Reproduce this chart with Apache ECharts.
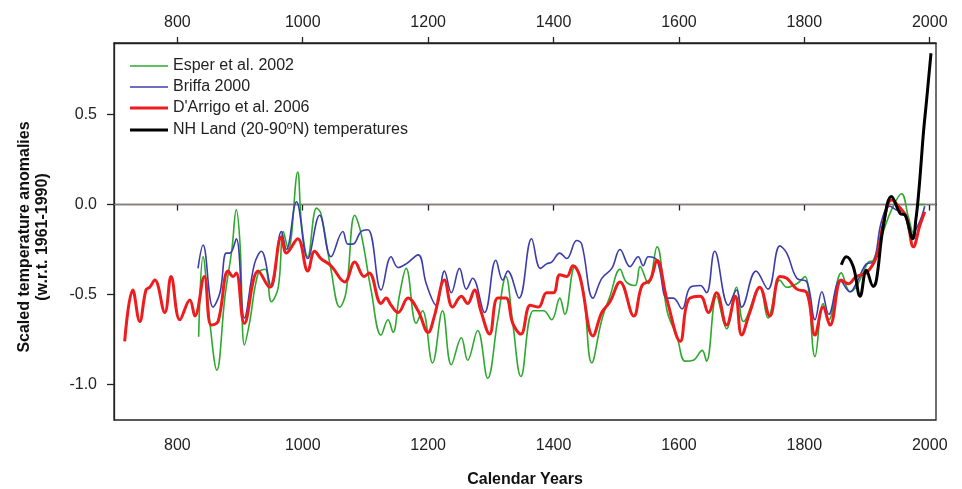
<!DOCTYPE html>
<html>
<head>
<meta charset="utf-8">
<script src="https://cdn.jsdelivr.net/npm/echarts@6/dist/echarts.min.js"></script>
<style>
html,body{margin:0;padding:0;background:#fff;}
#chart{width:962px;height:489px;}
</style>
</head>
<body>
<div id="chart"></div>
<script>
// ---- data ----
var xTicks = [800, 1000, 1200, 1400, 1600, 1800, 2000];
var yTicks = [-1.0, -0.5, 0.0, 0.5];

var esperYears = [834,841,852,863,876,887,894,900,907,915,929,940,950,961,969,977,992,998,1008,1022,1029,1045,1059,1069,1083,1093,1109,1125,1136,1144,1154,1165,1181,1191,1207,1223,1237,1253,1263,1279,1295,1311,1324,1335,1348,1368,1384,1397,1410,1418,1434,1447,1461,1477,1490,1506,1516,1530,1538,1551,1565,1581,1597,1610,1623,1637,1644,1660,1676,1692,1703,1729,1742,1761,1772,1788,1801,1817,1830,1839,1859,1873,1884,1902,1910,1926,1939,1955,1966,1974,1984,1992];
var esperVals  = [-0.735,-0.29,-0.66,-0.92,-0.51,-0.25,-0.03,-0.22,-0.78,-0.66,-0.38,-0.36,-0.54,-0.46,-0.15,-0.25,0.18,-0.105,-0.29,-0.02,-0.05,-0.36,-0.57,-0.49,-0.06,-0.16,-0.475,-0.725,-0.64,-0.71,-0.51,-0.355,-0.66,-0.59,-0.88,-0.59,-0.89,-0.74,-0.865,-0.70,-0.965,-0.64,-0.40,-0.66,-0.955,-0.59,-0.59,-0.64,-0.52,-0.61,-0.345,-0.475,-0.88,-0.64,-0.51,-0.36,-0.43,-0.45,-0.345,-0.44,-0.235,-0.59,-0.735,-0.87,-0.865,-0.81,-0.87,-0.51,-0.69,-0.46,-0.65,-0.46,-0.63,-0.42,-0.46,-0.44,-0.40,-0.845,-0.55,-0.64,-0.38,-0.485,-0.45,-0.32,-0.31,-0.15,-0.03,0.06,-0.07,-0.16,0.0,0.0];

var briffaYears = [833,841,857,868,878,884,894,907,923,934,950,966,974,990,1008,1027,1045,1064,1072,1080,1093,1104,1125,1141,1152,1165,1184,1197,1213,1226,1237,1250,1261,1271,1290,1308,1319,1327,1345,1365,1379,1389,1397,1410,1421,1437,1445,1463,1477,1493,1506,1522,1535,1543,1551,1565,1581,1591,1605,1618,1634,1644,1657,1679,1692,1700,1723,1742,1761,1772,1788,1804,1817,1828,1839,1857,1873,1884,1899,1910,1923,1936,1947,1958,1971,1984,1992];
var briffaVals  = [-0.355,-0.225,-0.57,-0.49,-0.27,-0.27,-0.19,-0.63,-0.33,-0.26,-0.46,-0.15,-0.25,0.015,-0.30,-0.06,-0.29,-0.15,-0.22,-0.22,-0.15,-0.14,-0.475,-0.29,-0.35,-0.33,-0.28,-0.44,-0.56,-0.37,-0.49,-0.355,-0.47,-0.41,-0.60,-0.31,-0.42,-0.37,-0.52,-0.19,-0.355,-0.33,-0.32,-0.27,-0.30,-0.20,-0.22,-0.52,-0.41,-0.355,-0.25,-0.345,-0.29,-0.34,-0.29,-0.31,-0.52,-0.52,-0.58,-0.46,-0.45,-0.49,-0.26,-0.56,-0.475,-0.57,-0.37,-0.47,-0.23,-0.27,-0.41,-0.43,-0.64,-0.485,-0.61,-0.42,-0.485,-0.43,-0.33,-0.32,-0.095,-0.01,-0.03,-0.04,-0.17,-0.095,-0.01];

var darrigoYears = [716,729,740,750,756,764,780,790,804,820,828,843,854,865,881,889,894,907,929,947,966,974,992,1008,1019,1029,1045,1067,1083,1098,1106,1125,1133,1141,1152,1168,1184,1200,1210,1226,1239,1253,1263,1274,1284,1298,1311,1324,1335,1348,1363,1376,1389,1400,1410,1421,1431,1442,1463,1477,1490,1506,1528,1541,1554,1565,1581,1602,1615,1634,1647,1660,1676,1690,1700,1713,1729,1745,1761,1772,1788,1804,1817,1830,1841,1859,1870,1883,1899,1915,1926,1939,1953,1963,1974,1984,1992];
var darrigoVals  = [-0.76,-0.475,-0.65,-0.475,-0.46,-0.42,-0.60,-0.40,-0.64,-0.53,-0.62,-0.40,-0.67,-0.65,-0.37,-0.40,-0.38,-0.66,-0.37,-0.46,-0.18,-0.27,-0.19,-0.37,-0.26,-0.30,-0.34,-0.43,-0.32,-0.40,-0.38,-0.55,-0.52,-0.56,-0.60,-0.52,-0.59,-0.71,-0.62,-0.42,-0.57,-0.51,-0.55,-0.475,-0.59,-0.72,-0.52,-0.52,-0.66,-0.72,-0.56,-0.57,-0.49,-0.49,-0.39,-0.40,-0.34,-0.40,-0.73,-0.60,-0.54,-0.43,-0.62,-0.45,-0.42,-0.31,-0.53,-0.76,-0.53,-0.51,-0.60,-0.49,-0.67,-0.51,-0.725,-0.60,-0.46,-0.62,-0.40,-0.41,-0.47,-0.49,-0.725,-0.57,-0.67,-0.42,-0.44,-0.40,-0.38,-0.29,-0.105,0.025,-0.02,-0.07,-0.235,-0.12,-0.04];

var nhYears = [1859,1867,1878,1889,1899,1910,1915,1926,1939,1953,1961,1973,1978,1982,1986,1990,1995,2002];
var nhVals  = [-0.335,-0.29,-0.345,-0.51,-0.365,-0.455,-0.42,-0.12,0.045,-0.05,-0.06,-0.19,-0.08,0.05,0.22,0.40,0.58,0.84];

var seriesNames = ['Esper et al. 2002', 'Briffa 2000', "D'Arrigo et al. 2006", 'NH Land (20-90\u00B0N) temperatures'];
var seriesColors = ['#2ea82e', '#3c3cad', '#ee1c1c', '#000000'];

function pairs(xs, ys) { return xs.map(function (x, i) { return [x, ys[i]]; }); }

var chart = echarts.init(document.getElementById('chart'), null, {renderer: 'canvas'});
var FONT = 'Liberation Sans';
var thinIcon = 'path://M0,0L380,0L380,16L0,16Z';
var thickIcon = 'path://M0,0L380,0L380,30L0,30Z';
var xAxisBase = {
  type: 'value', min: 699, max: 2010, gridIndex: 0,
  axisLine: {show: true, lineStyle: {color: '#222', width: 1.3}},
  axisTick: {show: true, length: 6, customValues: xTicks, lineStyle: {color: '#222', width: 1.3}},
  axisLabel: {customValues: xTicks, fontFamily: FONT, fontSize: 16, color: '#222',
    formatter: function (v) { return String(v); }},
  splitLine: {show: false}
};

chart.setOption({
  animation: false,
  backgroundColor: '#fff',
  grid: {left: 114, right: 26, top: 43, bottom: 69, show: true, borderColor: '#222', borderWidth: 1.3,
    backgroundColor: 'transparent', containLabel: false, outerBoundsMode: 'none'},
  legend: {
    orient: 'vertical', left: 125, top: 53, itemWidth: 38, itemHeight: 14, itemGap: 5,
    data: [
      {name: seriesNames[0], icon: thinIcon},
      {name: seriesNames[1], icon: thinIcon},
      {name: seriesNames[2], icon: thickIcon},
      {name: seriesNames[3], icon: thickIcon}
    ],
    textStyle: {fontFamily: FONT, fontSize: 16, color: '#222', lineHeight: 16,
      rich: {t: {fontFamily: FONT, fontSize: 16, color: '#222'}, sup: {fontFamily: FONT, fontSize: 10, color: '#222', padding: [0, 0, 8, 0]}}},
    formatter: function (name) {
      if (name.indexOf('NH Land') === 0) return '{t|NH Land (20-90}{sup|o}{t|N) temperatures}';
      return name;
    }
  },
  xAxis: [
    Object.assign({}, xAxisBase, {position: 'bottom', name: 'Calendar Years', nameLocation: 'middle', nameGap: 52,
      nameTextStyle: {fontFamily: FONT, fontSize: 16, fontWeight: 'bold', color: '#111'},
      axisLabel: Object.assign({}, xAxisBase.axisLabel, {margin: 18})}),
    Object.assign({}, xAxisBase, {position: 'top',
      axisLabel: Object.assign({}, xAxisBase.axisLabel, {margin: 12})})
  ],
  yAxis: {
    type: 'value', min: -1.197, max: 0.897,
    axisLine: {show: true, lineStyle: {color: '#222', width: 1.3}},
    axisTick: {show: true, length: 7, customValues: yTicks, lineStyle: {color: '#222', width: 1.3}},
    axisLabel: {customValues: yTicks, margin: 17, fontFamily: FONT, fontSize: 16, color: '#222',
      formatter: function (v) { return v.toFixed(1); }},
    splitLine: {show: false}
  },
  graphic: [
    {type: 'text', x: 25, y: 237, rotation: Math.PI / 2,
      style: {text: 'Scaled temperature anomalies', font: 'bold 16px "Liberation Sans"', fill: '#111', align: 'center', verticalAlign: 'middle'}},
    {type: 'text', x: 43, y: 237, rotation: Math.PI / 2,
      style: {text: '(w.r.t. 1961-1990)', font: 'bold 16px "Liberation Sans"', fill: '#111', align: 'center', verticalAlign: 'middle'}}
  ],
  series: [
    {name: seriesNames[0], type: 'line', data: pairs(esperYears, esperVals), symbol: 'none', smooth: 0.4,
      lineStyle: {color: seriesColors[0], width: 1.6}, itemStyle: {color: seriesColors[0]}, z: 2,
      markLine: {silent: true, symbol: 'none', label: {show: false}, lineStyle: {color: '#8c7b72', width: 1, type: 'solid'}, data: [{yAxis: 0}], z: 1}},
    {name: seriesNames[1], type: 'line', data: pairs(briffaYears, briffaVals), symbol: 'none', smooth: 0.4,
      lineStyle: {color: seriesColors[1], width: 1.6}, itemStyle: {color: seriesColors[1]}, z: 3},
    {name: seriesNames[2], type: 'line', data: pairs(darrigoYears, darrigoVals), symbol: 'none', smooth: 0.4,
      lineStyle: {color: seriesColors[2], width: 3}, itemStyle: {color: seriesColors[2]}, z: 4},
    {name: seriesNames[3], type: 'line', data: pairs(nhYears, nhVals), symbol: 'none', smooth: 0.4,
      lineStyle: {color: seriesColors[3], width: 3}, itemStyle: {color: seriesColors[3]}, z: 5}
  ]
});
</script>
</body>
</html>
